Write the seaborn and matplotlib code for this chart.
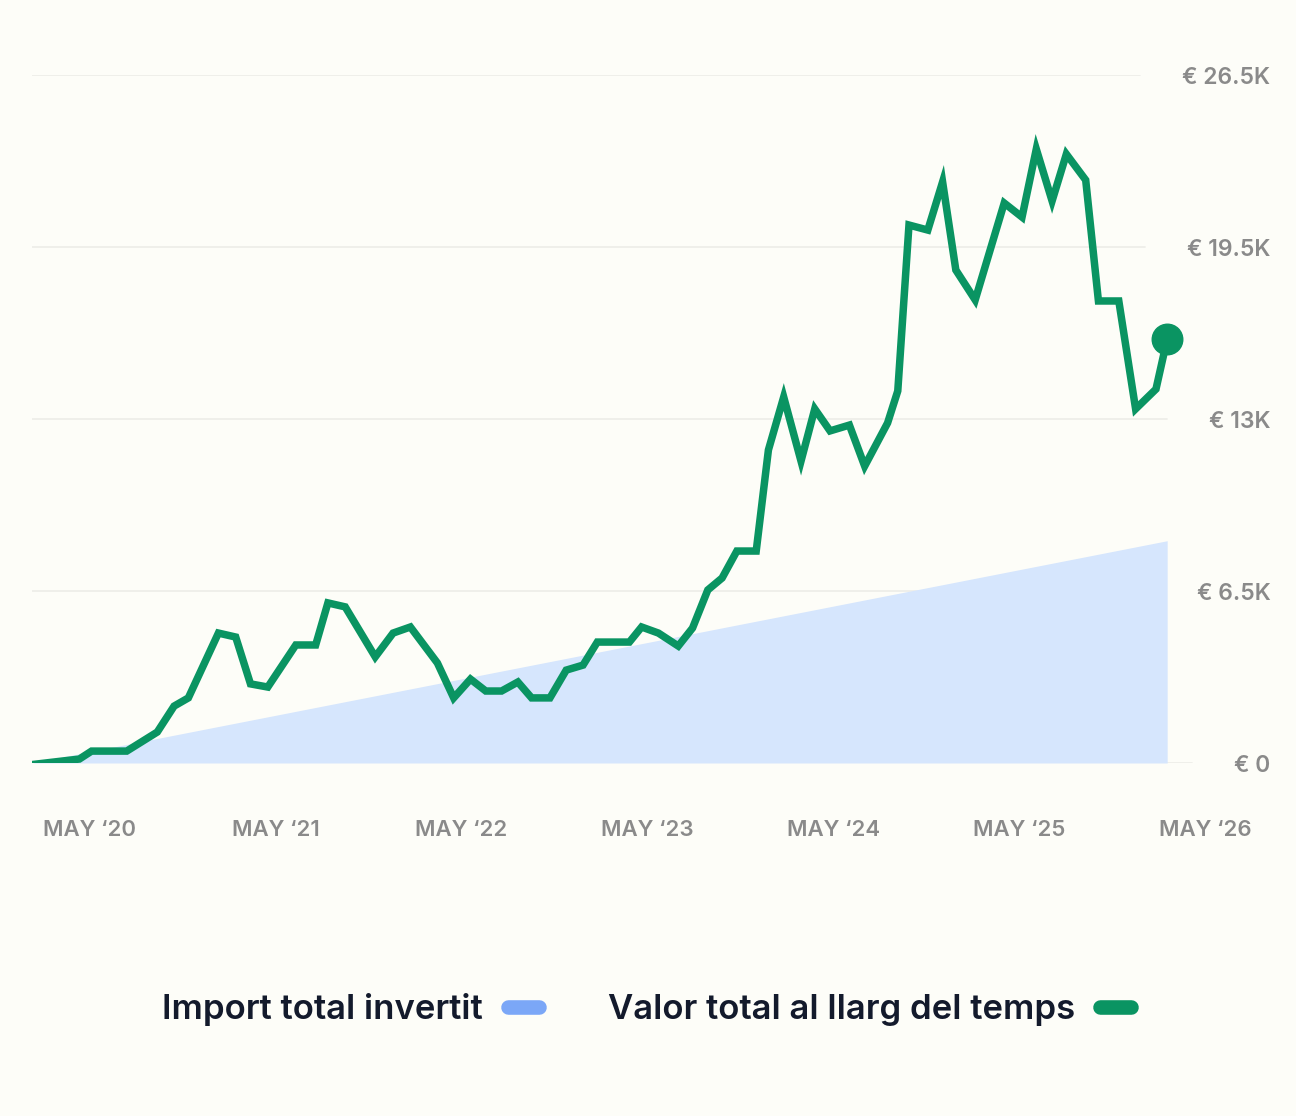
import numpy as np
import pandas as pd
import matplotlib
matplotlib.use("Agg")
import matplotlib.pyplot as plt
from matplotlib.lines import Line2D
import seaborn as sns

# valors llegits del gràfic
fechas = ["2020-01-09", "2020-04-11", "2020-05-05", "2020-07-13", "2020-09-11", "2020-10-14",
          "2020-11-11", "2021-01-09", "2021-02-12", "2021-03-13", "2021-04-16", "2021-06-10",
          "2021-07-19", "2021-08-12", "2021-09-15", "2021-11-13", "2021-12-18", "2022-01-21",
          "2022-03-15", "2022-04-16", "2022-05-19", "2022-06-18", "2022-07-19", "2022-08-20",
          "2022-09-16", "2022-10-22", "2022-11-23", "2022-12-26", "2023-01-23", "2023-03-27",
          "2023-04-20", "2023-05-23", "2023-07-01", "2023-07-29", "2023-08-28", "2023-09-25",
          "2023-10-24", "2023-12-01", "2023-12-25", "2024-01-24", "2024-02-27", "2024-03-25",
          "2024-04-24", "2024-06-01", "2024-07-01", "2024-08-15", "2024-09-04", "2024-09-26",
          "2024-11-02", "2024-12-01", "2024-12-27", "2025-02-03", "2025-04-01", "2025-05-06",
          "2025-06-03", "2025-07-04", "2025-08-01", "2025-09-08", "2025-10-03", "2025-11-12",
          "2025-12-15", "2026-01-24", "2026-02-15"]
valor_total = [-60, 150, 450, 450, 1170, 2150, 2460, 4910, 4760, 2990, 2870, 4460,
               4460, 6050, 5900, 4010, 4910, 5140, 3780, 2460, 3170, 2720, 2720, 3060,
               2460, 2460, 3510, 3700, 4570, 4570, 5140, 4910, 4420, 5100, 6540, 6990,
               8010, 8010, 11830, 13830, 11410, 13380, 12550, 12770, 11220, 12850, 14060, 20330,
               20140, 21960, 18630, 17500, 21160, 20630, 23200, 21240, 23010, 22030, 17460, 17460,
               13380, 14130, 16020]

fechas_invertit = ["2020-01-09", "2026-02-15"]
import_invertit = [0, 8400]

y_ticks = [0, 6500, 13000, 19500, 26000]
y_labels = ["€ 0", "€ 6.5K", "€ 13K", "€ 19.5K", "€ 26.5K"]
x_ticks = ["2020-05-01", "2021-05-01", "2022-05-01", "2023-05-01",
           "2024-05-01", "2025-05-01", "2026-05-01"]
x_labels = ["MAY ‘20", "MAY ‘21", "MAY ‘22", "MAY ‘23", "MAY ‘24", "MAY ‘25", "MAY ‘26"]

fons = "#fdfdf8"
verd = "#0a9462"
blau_fill = "#d6e6fd"
blau_llegenda = "#7ba7f7"
gris = "#8a8a8a"
text_fosc = "#131a2c"

sns.set_theme(style="white")
plt.rcParams["font.family"] = ["Inter", "DejaVu Sans"]

df = pd.DataFrame({"data": pd.to_datetime(fechas), "valor": valor_total})
inv = pd.DataFrame({"data": pd.to_datetime(fechas_invertit), "import": import_invertit})

fig = plt.figure(figsize=(12.96, 11.16), dpi=100, facecolor=fons)
ax = fig.add_axes([32 / 1296, 1 - 763 / 1116, (1212 - 32) / 1296, (763 - 75) / 1116])
ax.set_facecolor(fons)

ax.fill_between(inv["data"], inv["import"], 0, color=blau_fill, lw=0, zorder=2)
sns.lineplot(data=df, x="data", y="valor", ax=ax, color=verd, lw=5.4, zorder=4,
             solid_joinstyle="miter", solid_capstyle="butt")
ax.plot(df["data"].iloc[-1], df["valor"].iloc[-1], "o", color=verd, ms=22, zorder=5,
        clip_on=False)

ax.set_xlabel("")
ax.set_ylabel("")
for s in ax.spines.values():
    s.set_visible(False)

ax.set_xticks(pd.to_datetime(x_ticks))
ax.set_xticklabels(x_labels)
ax.set_yticks(y_ticks)
ax.set_yticklabels(y_labels)
ax.set_xlim(pd.Timestamp("2020-01-09"), pd.Timestamp("2026-05-14"))
ax.set_ylim(0, 26000)
ax.yaxis.tick_right()
ax.tick_params(axis="x", length=0, pad=41, labelsize=16, labelcolor=gris)
ax.tick_params(axis="y", length=0, pad=42, labelsize=16.5, labelcolor=gris)
for lab in ax.get_yticklabels():
    lab.set_horizontalalignment("right")
for lab in ax.get_xticklabels() + ax.get_yticklabels():
    lab.set_fontweight("semibold")

# línies de la graella que acaben abans de cada etiqueta
fig.canvas.draw()
bb_ax = ax.get_window_extent()
for val, lab in zip(y_ticks, ax.get_yticklabels()):
    bb = lab.get_window_extent()
    xmax = (bb.x0 - 42 - bb_ax.x0) / bb_ax.width
    ax.axhline(val, xmin=0, xmax=min(xmax, 1.0), color="#eeeee9", lw=1.3, zorder=1)

handles = [Line2D([], [], color=blau_llegenda, lw=10.5, solid_capstyle="round"),
           Line2D([], [], color=verd, lw=10.5, solid_capstyle="round")]
fig.legend(handles, ["Import total invertit", "Valor total al llarg del temps"],
           loc="center", bbox_to_anchor=(0.499, 1 - 1010 / 1116), ncol=2, frameon=False,
           markerfirst=False, handlelength=0.9, handletextpad=0.7, columnspacing=2.0,
           prop={"size": 25, "weight": "semibold"}, labelcolor=text_fosc)

fig.savefig("out.png", dpi=100, facecolor=fons)
